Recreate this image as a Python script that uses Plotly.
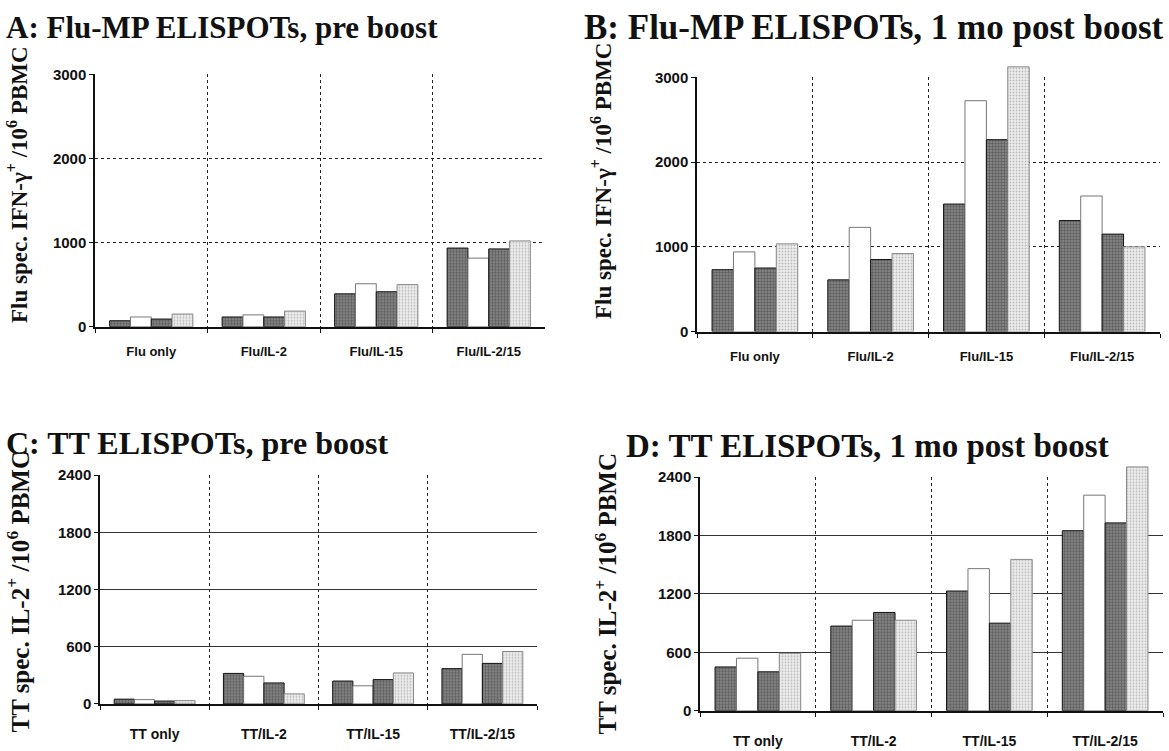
import plotly.graph_objects as go

# ---------------- data ----------------
cats_flu = ["Flu only", "Flu/IL-2", "Flu/IL-15", "Flu/IL-2/15"]
cats_tt = ["TT only", "TT/IL-2", "TT/IL-15", "TT/IL-2/15"]

A_s1 = [70, 115, 390, 935]
A_s2 = [115, 140, 510, 815]
A_s3 = [90, 115, 415, 925]
A_s4 = [150, 185, 500, 1020]

B_s1 = [730, 610, 1505, 1310]
B_s2 = [940, 1230, 2725, 1600]
B_s3 = [750, 850, 2265, 1150]
B_s4 = [1035, 920, 3125, 1000]

C_s1 = [50, 320, 240, 370]
C_s2 = [45, 290, 190, 520]
C_s3 = [30, 220, 255, 425]
C_s4 = [35, 105, 325, 550]

D_s1 = [450, 870, 1230, 1850]
D_s2 = [540, 930, 1460, 2215]
D_s3 = [400, 1010, 900, 1930]
D_s4 = [590, 930, 1555, 2505]

flu_ticks = [0, 1000, 2000, 3000]
tt_ticks = [0, 600, 1200, 1800, 2400]

titles = ["A: Flu-MP ELISPOTs, pre boost", "B: Flu-MP ELISPOTs, 1 mo post boost",
          "C: TT ELISPOTs, pre boost", "D: TT ELISPOTs, 1 mo post boost"]
ytitle_flu = "Flu spec. IFN-γ<sup>+</sup> /10<sup>6</sup> PBMC"
ytitle_tt = "TT spec. IL-2<sup>+</sup> /10<sup>6</sup> PBMC"

W, H = 1169, 751
OVER = 1.1  # headroom so bars may rise above the top gridline, as in the original

# ---------------- styles ----------------
dark = dict(color="#7c7c7c", line=dict(color="#111", width=1),
            pattern=dict(shape=".", bgcolor="#8a8a8a", fgcolor="#333333", size=3, solidity=0.5))
white = dict(color="#ffffff", line=dict(color="#777", width=1))
light = dict(color="#e4e4e4", line=dict(color="#888", width=1),
             pattern=dict(shape=".", bgcolor="#ededed", fgcolor="#8a8a8a", size=3, solidity=0.3))
styles = [dark, white, dark, light]

panels = [
    dict(cats=cats_flu, series=[A_s1, A_s2, A_s3, A_s4], ticks=flu_ticks,
         xd=(95, 545), yd=(67, 325), title_xy=(4, 19), tsize=31, ytitle=ytitle_flu, yt_xy=(18, 180), ysize=23,
         hgrid="dot", narrow=False),
    dict(cats=cats_flu, series=[B_s1, B_s2, B_s3, B_s4], ticks=flu_ticks,
         xd=(697, 1160), yd=(70, 330), title_xy=(582, 19), tsize=35, ytitle=ytitle_flu, yt_xy=(601, 176), ysize=23,
         hgrid="dot", narrow=False),
    dict(cats=cats_tt, series=[C_s1, C_s2, C_s3, C_s4], ticks=tt_ticks,
         xd=(100, 537), yd=(477, 711), title_xy=(4, 444), tsize=32, ytitle=ytitle_tt, yt_xy=(18, 596), ysize=25,
         hgrid="solid", narrow=True),
    dict(cats=cats_tt, series=[D_s1, D_s2, D_s3, D_s4], ticks=tt_ticks,
         xd=(700, 1163), yd=(479, 718), title_xy=(624, 447), tsize=33, ytitle=ytitle_tt, yt_xy=(606, 598), ysize=25,
         hgrid="solid", narrow=True),
]

fig = go.Figure()
annotations = []
layout_axes = {}
axis_font = "Liberation Sans, Arial, sans-serif"
narrow_font = "Liberation Sans Narrow, Arial Narrow, Liberation Sans, Arial, sans-serif"

for i, p in enumerate(panels):
    n = "" if i == 0 else str(i + 1)
    m = str(i + 5)
    xa, ya = "x" + n, "y" + n
    xb, yb_ = "x" + m, "y" + m
    top_val = p["ticks"][-1]
    x0, x1 = p["xd"]
    yt, yb = p["yd"]
    d_bot, d_top = 1 - yb / H, 1 - yt / H
    d_top_over = d_bot + (d_top - d_bot) * OVER

    # visible frame subplot: dummy zero bars establish the categories
    fig.add_trace(go.Bar(x=p["cats"], y=[0] * len(p["cats"]), xaxis=xa, yaxis=ya,
                         marker=dict(color="rgba(0,0,0,0)", line=dict(width=0)),
                         showlegend=False, hoverinfo="skip"))
    # data bars drawn on an overlay subplot with identical scale and extra headroom
    for s, vals in enumerate(p["series"]):
        fig.add_trace(go.Bar(x=p["cats"], y=vals, xaxis=xb, yaxis=yb_,
                             marker=styles[s], showlegend=False, hoverinfo="x+y"))

    xfont = dict(family=narrow_font if p["narrow"] else axis_font, size=14 if p["narrow"] else 13,
                 color="#111", weight="bold")
    layout_axes["xaxis" + n] = dict(
        domain=[x0 / W, x1 / W], anchor=ya, type="category",
        categoryorder="array", categoryarray=p["cats"],
        tickson="boundaries", ticks="outside", ticklen=4, tickcolor="#111",
        showgrid=True, gridcolor="#222", griddash="dot", gridwidth=1,
        showline=True, linecolor="#111", linewidth=2,
        tickfont=xfont, ticklabelstandoff=16 if p["narrow"] else 12,
        range=[-0.5, 3.5], fixedrange=True,
    )
    layout_axes["yaxis" + n] = dict(
        domain=[d_bot, d_top], anchor=xa,
        range=[0, top_val], tickvals=p["ticks"], ticktext=[str(t) for t in p["ticks"]],
        ticks="outside", ticklen=4, tickcolor="#111",
        showgrid=True, gridcolor="#222" if p["hgrid"] == "dot" else "#333",
        griddash="dot" if p["hgrid"] == "dot" else "solid", gridwidth=1,
        showline=True, linecolor="#111", linewidth=1.5, zeroline=False,
        tickfont=dict(family=axis_font, size=15, color="#111", weight="bold"),
        fixedrange=True,
    )
    layout_axes["xaxis" + m] = dict(
        domain=[x0 / W, x1 / W], anchor=yb_, type="category",
        categoryorder="array", categoryarray=p["cats"],
        range=[-0.5, 3.5], visible=False, fixedrange=True,
    )
    layout_axes["yaxis" + m] = dict(
        domain=[d_bot, d_top_over], anchor=xb,
        range=[0, top_val * OVER], visible=False, fixedrange=True,
    )

    tx, ty = p["title_xy"]
    annotations.append(dict(text="<b>" + titles[i] + "</b>", x=tx / W, y=1 - ty / H,
                            xref="paper", yref="paper", xanchor="left", yanchor="middle",
                            showarrow=False,
                            font=dict(family="Liberation Serif, Times New Roman, serif", size=p["tsize"],
                                      color="#111")))
    yx, yy = p["yt_xy"]
    annotations.append(dict(text="<b>" + p["ytitle"] + "</b>", x=yx / W, y=1 - yy / H,
                            xref="paper", yref="paper", xanchor="center", yanchor="middle",
                            textangle=-90, showarrow=False,
                            font=dict(family="Liberation Serif, Times New Roman, serif", size=p["ysize"],
                                      color="#111")))

fig.update_layout(
    width=W, height=H, margin=dict(l=0, r=0, t=0, b=0),
    paper_bgcolor="white", plot_bgcolor="rgba(0,0,0,0)",
    barmode="group", bargap=0.26, bargroupgap=0.0,
    annotations=annotations, showlegend=False,
    **layout_axes,
)

fig.write_html("out.html", config={"displayModeBar": False})
